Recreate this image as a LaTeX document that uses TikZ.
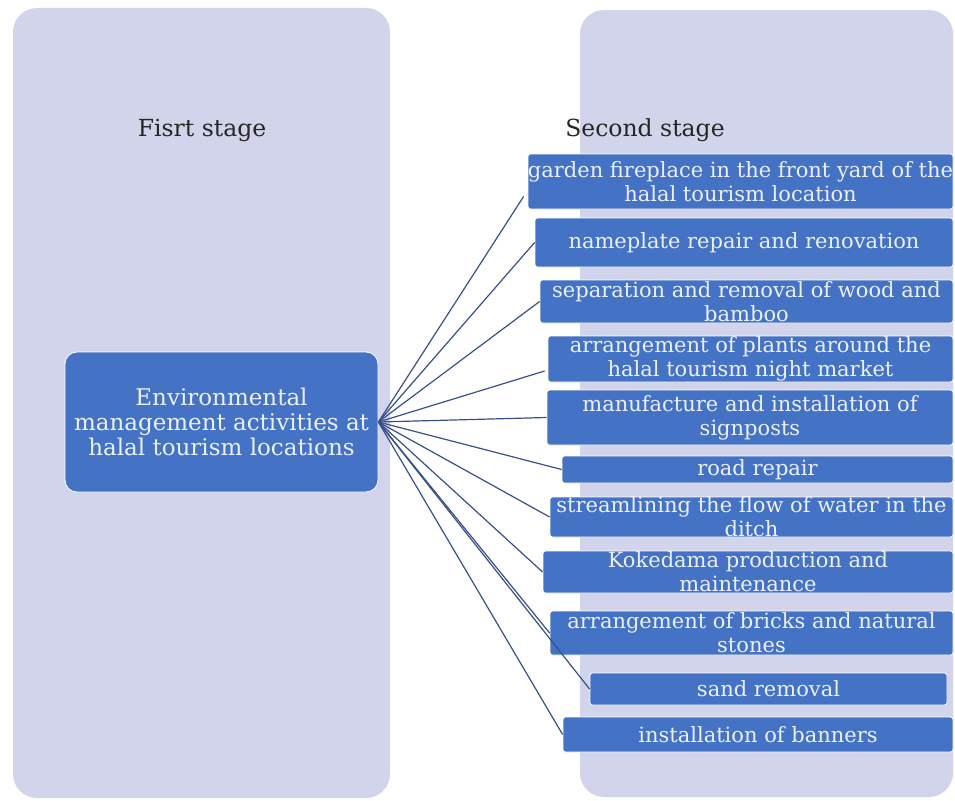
\documentclass[tikz,border=0pt]{standalone}
\usepackage{fontspec}
\setmainfont{DejaVu Serif}
\usetikzlibrary{calc}
\definecolor{panelc}{RGB}{209,212,234}
\definecolor{boxc}{RGB}{68,114,196}
\definecolor{linec}{RGB}{55,80,135}
\definecolor{boxtxt}{RGB}{236,240,250}
\definecolor{titlec}{RGB}{38,38,38}
\tikzset{
  panel/.style={fill=panelc, draw=none, rounded corners=24pt},
  itembox/.style={fill=boxc, draw=white, line width=0.8pt, rounded corners=2.5pt, inner sep=0pt},
  itemtext/.style={text=boxtxt, align=center, inner sep=0pt, font=\fontsize{21}{24}\selectfont},
  maintext/.style={text=boxtxt, align=center, inner sep=0pt, font=\fontsize{23}{25}\selectfont},
  stagetitle/.style={text=titlec, inner sep=0pt, font=\fontsize{23.5}{26}\selectfont},
  fan/.style={draw=linec, line width=1.2pt},
}
\begin{document}
\begin{tikzpicture}[x=1pt,y=-1pt]
\useasboundingbox (0,0) rectangle (955,800);
% panels
\fill[panel] (13,8) rectangle (390,798);
\fill[panel] (580,10) rectangle (953,797);
\node[stagetitle] (t1) at (202,130) {Fisrt stage};
\node[stagetitle] (t2) at (645,130) {Second stage};
% central node
\node[itembox, rounded corners=12pt, minimum width=313pt, minimum height=140pt] (c) at (221.5,422) {};
\node[maintext] (ct) at (c) {Environmental\\management activities at\\halal tourism locations};
% right items
\node[itembox, minimum width=425pt, minimum height=55pt] (n1) at (740.5,181.5) {};
\node[itembox, minimum width=418pt, minimum height=49pt] (n2) at (744,242.5) {};
\node[itembox, minimum width=413pt, minimum height=43pt] (n3) at (746.5,301.5) {};
\node[itembox, minimum width=405pt, minimum height=46pt] (n4) at (750.5,359) {};
\node[itembox, minimum width=406pt, minimum height=55pt] (n5) at (750,417.5) {};
\node[itembox, minimum width=391pt, minimum height=27pt] (n6) at (757.5,469.5) {};
\node[itembox, minimum width=403pt, minimum height=40pt] (n7) at (751.5,517) {};
\node[itembox, minimum width=410pt, minimum height=42pt] (n8) at (748,572) {};
\node[itembox, minimum width=403pt, minimum height=44pt] (n9) at (751.5,633) {};
\node[itembox, minimum width=357pt, minimum height=32pt] (n10) at (768.5,689) {};
\node[itembox, minimum width=390pt, minimum height=35pt] (n11) at (758,734.5) {};
\node[itemtext] (l1) at (n1) {garden fireplace in the front yard of the\\halal tourism location};
\node[itemtext] (l2) at (n2) {nameplate repair and renovation};
\node[itemtext] (l3) at (n3) {separation and removal of wood and\\bamboo};
\node[itemtext] (l4) at (n4) {arrangement of plants around the\\halal tourism night market};
\node[itemtext] (l5) at (n5) {manufacture and installation of\\signposts};
\node[itemtext] (l6) at (n6) {road repair};
\node[itemtext] (l7) at (n7) {streamlining the flow of water in the\\ditch};
\node[itemtext] (l8) at (n8) {Kokedama production and\\maintenance};
\node[itemtext] (l9) at (n9) {arrangement of bricks and natural\\stones};
\node[itemtext] (l10) at (n10) {sand removal};
\node[itemtext] (l11) at (n11) {installation of banners};
% connectors
\coordinate (hub) at (c.east);
\draw[fan] (hub) -- ($(n1.west)+(-4,15)$);
\draw[fan] (hub) -- (n2.west);
\draw[fan] (hub) -- (n3.west);
\draw[fan] (hub) -- ($(n4.west)+(-3,12)$);
\draw[fan] (hub) -- (n5.west);
\draw[fan] (hub) -- (n6.west);
\draw[fan] (hub) -- (n7.west);
\draw[fan] (hub) -- (n8.west);
\draw[fan] (hub) -- (n9.west);
\draw[fan] (hub) -- (n10.west);
\draw[fan] (hub) -- (n11.west);
\end{tikzpicture}
\end{document}
